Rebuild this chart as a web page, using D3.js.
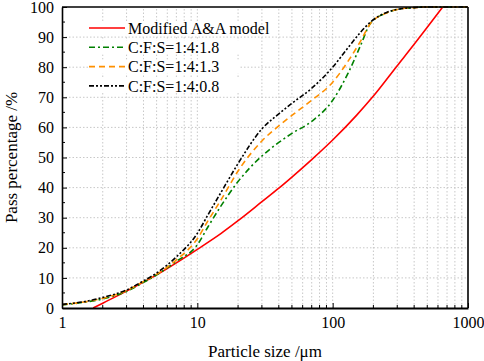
<!DOCTYPE html>
<html>
<head>
<meta charset="utf-8">
<script src="https://cdn.jsdelivr.net/npm/d3@7"></script>
<style>
  body { margin: 0; background: #fff; }
  text { font-family: 'Liberation Serif', 'Times New Roman', serif; fill: #000; }
</style>
</head>
<body>
<svg id="chart"></svg>
<script>
// particle size (um) and pass percentage (%)
const redSize = [1.7, 2, 3, 4, 5, 7, 10, 15, 20, 30, 40, 50, 70, 100, 150, 200, 300, 400, 500, 650]
const redPass = [0, 1.6, 5.6, 8.6, 11, 15, 19.5, 24.8, 29, 35.3, 39.8, 43.5, 49.3, 55.8, 64, 70.4, 80.5, 87.6, 93.3, 100]

const mixSize = [1, 1.5, 2, 3, 4, 5, 7, 10, 12, 15, 20, 30, 40, 50, 70, 100, 130, 160, 190, 250, 300, 400, 500, 1000]
const greenPass = [1, 2, 3, 5.5, 8.5, 11, 15.5, 21, 27, 34, 42, 50.5, 55, 58, 62, 69, 78, 87, 94.5, 98, 99.2, 99.8, 100, 100]
const orangePass = [1.1, 2.1, 3.2, 5.8, 8.8, 11.2, 16, 23, 29, 36, 45.5, 55.5, 60.5, 64, 69, 75, 82, 88.5, 94.5, 98, 99.2, 99.8, 100, 100]
const blackPass = [1.2, 2.2, 3.5, 6, 9, 11.6, 17, 24.8, 31, 38.5, 48, 59.5, 64.5, 68, 73, 80, 86.5, 91.5, 95, 98.2, 99.2, 99.8, 100, 100]

const seriesNames = ['Modified A&A model', 'C:F:S=1:4:1.8', 'C:F:S=1:4:1.3', 'C:F:S=1:4:0.8']
const xTicks = [1, 10, 100, 1000]
const yTicks = [0, 10, 20, 30, 40, 50, 60, 70, 80, 90, 100]

const W = 484, H = 361
const m = { left: 62, right: 16, top: 7, bottom: 53 }

const svg = d3.select('#chart').attr('width', W).attr('height', H)

const x = d3.scaleLog().domain([1, 1000]).range([m.left, W - m.right])
const y = d3.scaleLinear().domain([0, 100]).range([H - m.bottom, m.top])

// minor log positions 2..9 per decade
const minorX = []
for (let d = 1; d < 1000; d *= 10) {
  for (let k = 2; k <= 9; k++) minorX.push(d * k)
}
const minorY = d3.range(5, 100, 10)

const grid = svg.append('g').attr('stroke', '#c8c8c8').attr('stroke-width', 1).attr('stroke-dasharray', '1.5,2')
grid.selectAll('.gx').data(minorX.concat([10, 100])).enter().append('line')
  .attr('x1', d => x(d)).attr('x2', d => x(d))
  .attr('y1', y(0)).attr('y2', y(100))
grid.selectAll('.gy').data(yTicks.filter(d => d > 0 && d < 100)).enter().append('line')
  .attr('x1', x(1)).attr('x2', x(1000))
  .attr('y1', d => y(d)).attr('y2', d => y(d))

const series = [
  { sx: redSize, sy: redPass, color: '#ff0000', dash: null },
  { sx: mixSize, sy: greenPass, color: '#008000', dash: '6,3,2,3' },
  { sx: mixSize, sy: orangePass, color: '#ff9000', dash: '6,4' },
  { sx: mixSize, sy: blackPass, color: '#000000', dash: '5,2,2,2,2,2' }
]

const line = d3.line().x(d => x(d[0])).y(d => y(d[1])).curve(d3.curveMonotoneX)

svg.append('defs').append('clipPath').attr('id', 'clip')
  .append('rect').attr('x', x(1)).attr('y', y(100) - 1).attr('width', x(1000) - x(1)).attr('height', y(0) - y(100) + 1)

const plot = svg.append('g').attr('clip-path', 'url(#clip)')
series.forEach(s => {
  plot.append('path')
    .datum(d3.zip(s.sx, s.sy))
    .attr('fill', 'none')
    .attr('stroke', s.color)
    .attr('stroke-width', 1.6)
    .attr('stroke-dasharray', s.dash)
    .attr('d', line)
})

// axes with inward ticks
const xAxis = svg.append('g').attr('transform', `translate(0,${y(0)})`)
  .call(d3.axisBottom(x).tickValues(xTicks).tickFormat(d3.format('d')).tickSizeInner(-5).tickSizeOuter(0).tickPadding(9))
xAxis.append('g').selectAll('line').data(minorX).enter().append('line')
  .attr('x1', d => x(d)).attr('x2', d => x(d)).attr('y1', 0).attr('y2', -3).attr('stroke', '#000')

const yAxis = svg.append('g').attr('transform', `translate(${x(1)},0)`)
  .call(d3.axisLeft(y).tickValues(yTicks).tickSizeInner(-5).tickSizeOuter(0).tickPadding(8))
yAxis.append('g').selectAll('line').data(minorY).enter().append('line')
  .attr('y1', d => y(d)).attr('y2', d => y(d)).attr('x1', 0).attr('x2', 3).attr('stroke', '#000')

;[xAxis, yAxis].forEach(a => {
  a.selectAll('text').attr('font-size', 16).style('font-family', "'Liberation Serif', serif")
  a.select('.domain').attr('stroke-width', 1.6)
})
xAxis.select('.domain').attr('stroke-width', 2.2)

// top and right frame
svg.append('line').attr('x1', x(1)).attr('x2', x(1000)).attr('y1', y(100)).attr('y2', y(100)).attr('stroke', '#000').attr('stroke-width', 1.6)
svg.append('line').attr('x1', x(1000)).attr('x2', x(1000)).attr('y1', y(100)).attr('y2', y(0)).attr('stroke', '#000').attr('stroke-width', 1.6)

svg.append('text').attr('x', (x(1) + x(1000)) / 2).attr('y', 357)
  .attr('text-anchor', 'middle').attr('font-size', 17).text('Particle size /\u03bcm')
svg.append('text').attr('transform', `translate(17,${(y(0) + y(100)) / 2}) rotate(-90)`)
  .attr('text-anchor', 'middle').attr('font-size', 17).text('Pass percentage /%')

// legend
const legend = svg.append('g').attr('transform', 'translate(89,28)')
series.forEach((s, i) => {
  const row = legend.append('g').attr('transform', `translate(0,${i * 19.3})`)
  row.append('rect').attr('x', 0).attr('y', -7).attr('width', 150).attr('height', 14).attr('fill', '#fff')
  row.append('line').attr('x1', 0).attr('x2', 36).attr('y1', 0).attr('y2', 0)
    .attr('stroke', s.color).attr('stroke-width', 1.6).attr('stroke-dasharray', s.dash)
  row.append('text').attr('x', 39).attr('y', 0).attr('dy', '0.35em').attr('font-size', 16).text(seriesNames[i])
})
</script>
</body>
</html>
